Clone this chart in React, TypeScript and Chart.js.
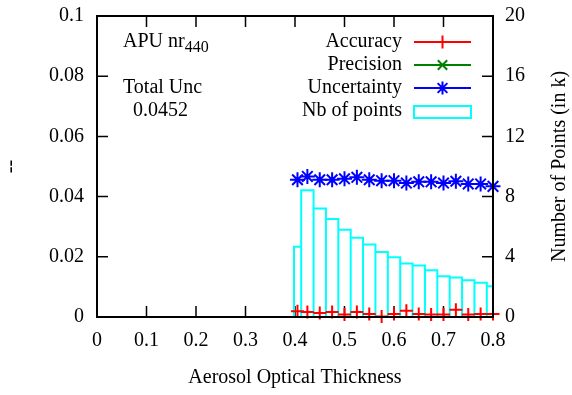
import React, { useEffect, useRef } from "react";
import { Chart, registerables } from "chart.js";
Chart.register(...registerables);

// ---- data ----
const xTickValues = [0, 0.1, 0.2, 0.3, 0.4, 0.5, 0.6, 0.7, 0.8];
const yTickValues = [0, 0.02, 0.04, 0.06, 0.08, 0.1];
const y2TickValues = [0, 4, 8, 12, 16, 20];

const pointAOT = [0.405, 0.425, 0.45, 0.475, 0.5, 0.525, 0.55, 0.575, 0.6, 0.625, 0.65, 0.675, 0.7, 0.725, 0.75, 0.775, 0.8];
const accuracy = [0.0019, 0.0017, 0.0013, 0.0017, 0.0008, 0.0017, 0.001, 0.0002, 0.001, 0.0021, 0.001, 0.0008, 0.0008, 0.0024, 0.0008, 0.001, 0.001];
const precision: number[] = [];
const uncertainty = [0.0456, 0.0467, 0.0456, 0.0456, 0.0459, 0.0464, 0.0456, 0.0453, 0.0453, 0.0445, 0.0449, 0.0449, 0.0445, 0.0451, 0.0442, 0.0442, 0.0434];

const binEdges = [0.398, 0.4125, 0.4375, 0.4625, 0.4875, 0.5125, 0.5375, 0.5625, 0.5875, 0.6125, 0.6375, 0.6625, 0.6875, 0.7125, 0.7375, 0.7625, 0.7875, 0.8125];
const binCounts = [4.66, 8.43, 7.21, 6.51, 5.79, 5.26, 4.82, 4.32, 3.97, 3.55, 3.42, 3.1, 2.71, 2.62, 2.44, 2.27, 2.05];

const seriesLabels = ["Accuracy", "Precision", "Uncertainty", "Nb of points"];
const seriesColors = ["#ff0000", "#008000", "#0000ff", "#00ffff"];
const xTitle = "Aerosol Optical Thickness";
const yTitle = "--";
const y2Title = "Number of Points (in k)";
const plotTitle = "APU nr";
const plotTitleSub = "440";
const totalUncLabel = "Total Unc";
const totalUncValue = "0.0452";

const FONT = "'Liberation Serif', 'Times New Roman', serif";
const FS = 20;

function drawMarker(ctx: CanvasRenderingContext2D, kind: string, x: number, y: number, r: number) {
  ctx.beginPath();
  if (kind === "cross" || kind === "star") {
    ctx.moveTo(x - r, y); ctx.lineTo(x + r, y);
    ctx.moveTo(x, y - r); ctx.lineTo(x, y + r);
  }
  if (kind === "crossRot" || kind === "star") {
    const d = kind === "star" ? r * 0.75 : r * 0.72;
    ctx.moveTo(x - d, y - d); ctx.lineTo(x + d, y + d);
    ctx.moveTo(x - d, y + d); ctx.lineTo(x + d, y - d);
  }
  ctx.stroke();
}

const framePlugin = {
  id: "gnuframe",
  beforeDatasetsDraw(chart: any) {
    const { ctx, chartArea: a, scales } = chart;
    const TL = 11;
    ctx.save();
    ctx.strokeStyle = "#000";
    ctx.lineWidth = 1.5;
    ctx.beginPath();
    for (const v of xTickValues) {
      const px = scales.x.getPixelForValue(v);
      ctx.moveTo(px, a.bottom); ctx.lineTo(px, a.bottom - TL);
      ctx.moveTo(px, a.top); ctx.lineTo(px, a.top + TL);
    }
    for (const v of yTickValues) {
      const py = scales.y.getPixelForValue(v);
      ctx.moveTo(a.left, py); ctx.lineTo(a.left + TL, py);
    }
    for (const v of y2TickValues) {
      const py = scales.y2.getPixelForValue(v);
      ctx.moveTo(a.right, py); ctx.lineTo(a.right - TL, py);
    }
    ctx.stroke();
    ctx.restore();
  },
  afterDatasetsDraw(chart: any) {
    const { ctx, chartArea: a } = chart;
    ctx.save();
    ctx.strokeStyle = "#000";
    ctx.lineWidth = 2;
    ctx.strokeRect(a.left, a.top, a.right - a.left, a.bottom - a.top);

    ctx.fillStyle = "#000";
    ctx.font = `${FS}px ${FONT}`;
    ctx.textBaseline = "middle";

    // titles
    ctx.textAlign = "center";
    ctx.fillText(xTitle, (a.left + a.right) / 2, a.bottom + 61);
    ctx.save();
    ctx.translate(a.right + 67, (a.top + a.bottom) / 2);
    ctx.rotate(-Math.PI / 2);
    ctx.fillText(y2Title, 0, 0);
    ctx.restore();
    ctx.save();
    ctx.translate(11, (a.top + a.bottom) / 2);
    ctx.rotate(-Math.PI / 2);
    ctx.fillText(yTitle, 0, 0);
    ctx.restore();

    // annotations
    ctx.textAlign = "left";
    const tx = a.left + 26;
    ctx.fillText(plotTitle, tx, a.top + 26);
    const w = ctx.measureText(plotTitle).width;
    ctx.font = `${Math.round(FS * 0.78)}px ${FONT}`;
    ctx.fillText(plotTitleSub, tx + w, a.top + 32);
    ctx.font = `${FS}px ${FONT}`;
    ctx.fillText(totalUncLabel, tx, a.top + 72);
    ctx.fillText(totalUncValue, tx + 10, a.top + 95);

    // legend
    const kinds = ["cross", "crossRot", "star", "box"];
    const tr = a.right - 91;
    const s0 = a.right - 79;
    const s1 = a.right - 22;
    seriesLabels.forEach((lab, i) => {
      const y = a.top + 26 + i * 23;
      ctx.fillStyle = "#000";
      ctx.textAlign = "right";
      ctx.fillText(lab, tr, y);
      ctx.strokeStyle = seriesColors[i];
      ctx.lineWidth = 2;
      if (kinds[i] === "box") {
        ctx.strokeRect(s0, y - 5, s1 - s0, 12);
      } else {
        ctx.beginPath();
        ctx.moveTo(s0, y); ctx.lineTo(s1, y);
        ctx.stroke();
        drawMarker(ctx, kinds[i], (s0 + s1) / 2, y, 6.5);
      }
    });
    ctx.restore();
  },
};

const fmt = (v: any) => String(Number(Number(v).toFixed(3)));

export default function App() {
  const ref = useRef<HTMLCanvasElement | null>(null);
  useEffect(() => {
    if (!ref.current) return;
    const binOutline: { x: number; y: number }[] = [];
    binCounts.forEach((c, i) => {
      binOutline.push({ x: binEdges[i], y: 0 });
      binOutline.push({ x: binEdges[i], y: c });
      binOutline.push({ x: binEdges[i + 1], y: c });
      binOutline.push({ x: binEdges[i + 1], y: 0 });
    });
    const tickFont = { family: FONT, size: FS };
    const noGrid = { display: false, drawTicks: false, tickLength: 0 };
    const chart = new Chart(ref.current, {
      type: "scatter",
      data: {
        datasets: [
          {
            label: seriesLabels[0],
            data: pointAOT.map((x, i) => ({ x, y: accuracy[i] })),
            yAxisID: "y",
            showLine: false,
            pointStyle: "cross",
            pointRadius: 6.5,
            pointBorderWidth: 2,
            borderColor: seriesColors[0],
            pointBorderColor: seriesColors[0],
            backgroundColor: seriesColors[0],
            clip: false as any,
          },
          {
            label: seriesLabels[1],
            data: precision.map((y, i) => ({ x: pointAOT[i], y })),
            yAxisID: "y",
            showLine: false,
            pointStyle: "crossRot",
            pointRadius: 6.5,
            pointBorderWidth: 2,
            borderColor: seriesColors[1],
            pointBorderColor: seriesColors[1],
            clip: false as any,
          },
          {
            label: seriesLabels[2],
            data: pointAOT.map((x, i) => ({ x, y: uncertainty[i] })),
            yAxisID: "y",
            showLine: false,
            pointStyle: "star",
            pointRadius: 7.5,
            pointBorderWidth: 2,
            borderColor: seriesColors[2],
            pointBorderColor: seriesColors[2],
            clip: false as any,
          },
          {
            label: seriesLabels[3],
            data: binOutline,
            yAxisID: "y2",
            showLine: true,
            pointRadius: 0,
            borderColor: seriesColors[3],
            borderWidth: 2,
            fill: false,
            tension: 0,
            clip: 0 as any,
          },
        ],
      },
      options: {
        animation: false,
        responsive: false,
        devicePixelRatio: 1,
        layout: { padding: { top: 16, left: 0, right: 0, bottom: 0 } },
        plugins: { legend: { display: false }, tooltip: { enabled: false } },
        scales: {
          x: {
            type: "linear",
            min: 0,
            max: 0.8,
            grid: noGrid,
            border: { display: false },
            ticks: { stepSize: 0.1, font: tickFont, color: "#000", padding: 12, maxRotation: 0, autoSkip: false, callback: fmt },
            afterFit: (s: any) => { s.height = 78; s.paddingLeft = 0; s.paddingRight = 0; },
          },
          y: {
            type: "linear",
            position: "left",
            min: 0,
            max: 0.1,
            grid: noGrid,
            border: { display: false },
            ticks: { stepSize: 0.02, font: tickFont, color: "#000", padding: 13, callback: fmt },
            afterFit: (s: any) => { s.width = 97; s.paddingTop = 0; s.paddingBottom = 0; },
          },
          y2: {
            type: "linear",
            position: "right",
            min: 0,
            max: 20,
            grid: noGrid,
            border: { display: false },
            ticks: { stepSize: 4, font: tickFont, color: "#000", padding: 12, callback: fmt },
            afterFit: (s: any) => { s.width = 79; s.paddingTop = 0; s.paddingBottom = 0; },
          },
        },
      } as any,
      plugins: [framePlugin],
    });
    return () => chart.destroy();
  }, []);
  return (
    <div style={{ position: "absolute", left: 0, top: 0, width: 572, height: 395, background: "#fff" }}>
      <canvas ref={ref} width={572} height={395} />
    </div>
  );
}
